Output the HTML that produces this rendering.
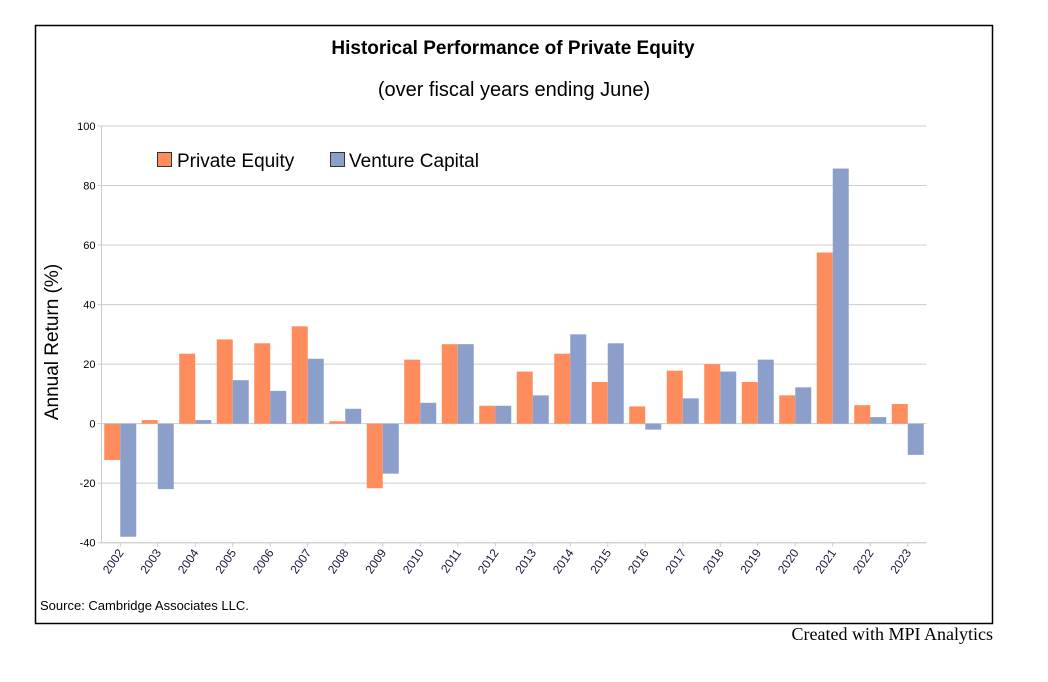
<!DOCTYPE html>
<html><head><meta charset="utf-8"><style>
body{margin:0;background:#fff;width:1048px;height:677px;overflow:hidden;font-family:"Liberation Sans",sans-serif;}
</style></head><body>
<svg width="1048" height="677" font-family="Liberation Sans, sans-serif">
<rect x="35.5" y="25.5" width="957" height="598" fill="#fff" stroke="#000" stroke-width="1.5"/>
<text x="513" y="54" text-anchor="middle" font-size="19" font-weight="bold">Historical Performance of Private Equity</text>
<text x="514" y="96" text-anchor="middle" font-size="20">(over fiscal years ending June)</text>
<g id="grid"></g>
<g id="bars"></g>
<g id="axes"></g>
<text transform="translate(58,342) rotate(-90)" text-anchor="middle" font-size="19">Annual Return (%)</text>
<g>
<rect x="157.5" y="152.5" width="14" height="14" fill="#FF8C5C" stroke="#333"/>
<text x="177" y="167" font-size="19">Private Equity</text>
<rect x="330.5" y="152.5" width="14" height="14" fill="#8C9FCB" stroke="#333"/>
<text x="349" y="167" font-size="19">Venture Capital</text>
</g>
<text x="40" y="610" font-size="13">Source: Cambridge Associates LLC.</text>
<text x="993" y="640" text-anchor="end" font-size="18" font-family="Liberation Serif, serif">Created with MPI Analytics</text>
</svg>
<script>
const years=["2002","2003","2004","2005","2006","2007","2008","2009","2010","2011","2012","2013","2014","2015","2016","2017","2018","2019","2020","2021","2022","2023"];
const privateEquity=[-12.2,1.2,23.5,28.3,27,32.7,0.8,-21.7,21.5,26.7,6,17.5,23.5,14,5.8,17.8,20,14,9.5,57.5,6.2,6.6];
const ventureCapital=[-38,-22,1.2,14.6,11,21.8,5,-16.8,7,26.7,6,9.5,30,27,-2,8.5,17.5,21.5,12.2,85.7,2.2,-10.5];
const yTicks=[-40,-20,0,20,40,60,80,100];
const NS="http://www.w3.org/2000/svg";
const x0=101.5,x1=926.5,yTop=126,yBot=542.7,vMin=-40,vMax=100;
const y=v=>yBot-(v-vMin)/(vMax-vMin)*(yBot-yTop);
const gw=(x1-x0)/years.length;
const xc=i=>x0+gw*(i+0.5);
function mk(tag,attrs,parent){const e=document.createElementNS(NS,tag);for(const k in attrs)e.setAttribute(k,attrs[k]);document.getElementById(parent).appendChild(e);return e;}
yTicks.forEach(t=>{
 const l=mk('line',{x1:x0-4,x2:x1,y1:y(t),y2:y(t),stroke:'#ccc','stroke-width':1},'grid');
 
 
 const tx=mk('text',{x:x0-6,y:y(t)+4,'text-anchor':'end','font-size':11},'axes');
 tx.textContent=t;
 
 
});
const bw=16;
years.forEach((yr,i)=>{
 const c=xc(i);
 [[privateEquity[i],c-bw,'#FF8C5C','bar-pe-'+yr],[ventureCapital[i],c,'#8C9FCB','bar-vc-'+yr]].forEach(([v,x,col,nm])=>{
  const r=mk('rect',{x:x,width:bw,y:Math.min(y(v),y(0)),height:Math.abs(y(v)-y(0)),fill:col},'bars');
  
  
 });
 const tk=mk('line',{x1:c,x2:c,y1:yBot,y2:yBot+4,stroke:'#ccc'},'axes');
 
 
 const tx=mk('text',{transform:`translate(${c+4},${yBot+10}) rotate(-55)`,'text-anchor':'end','font-size':12,fill:'#1a1a3a'},'axes');
 tx.textContent=yr;
 
 
});
const ax=mk('line',{x1:x0,x2:x0,y1:yTop,y2:yBot,stroke:'#ccc'},'axes');


const bx=mk('line',{x1:x0,x2:x1,y1:yBot,y2:yBot,stroke:'#ccc'},'axes');


</script>
</body></html>
